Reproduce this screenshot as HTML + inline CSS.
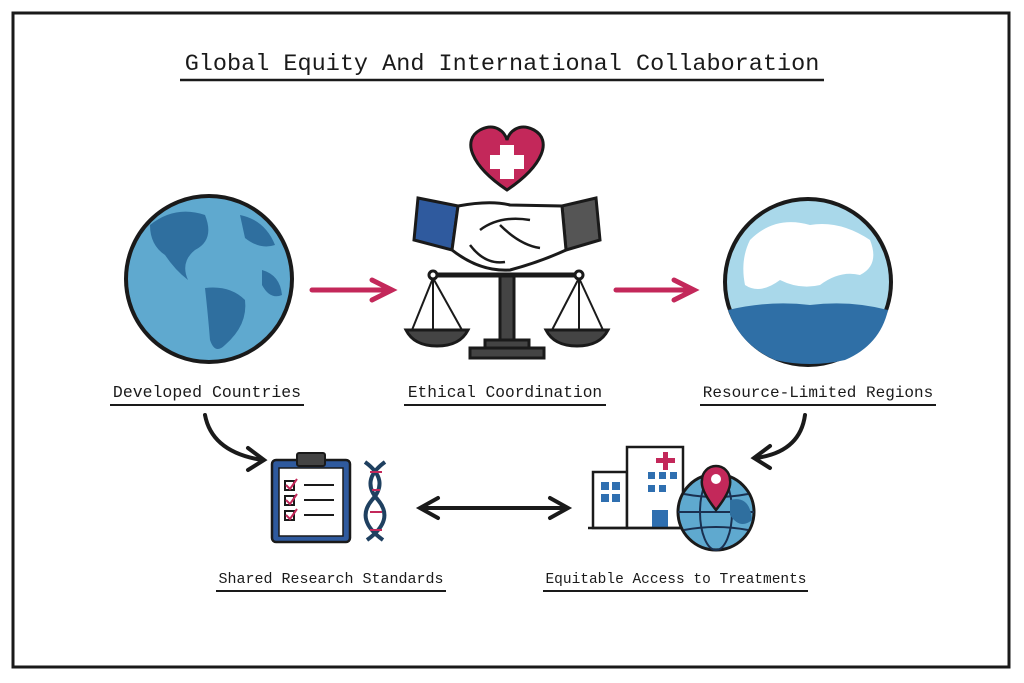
<!DOCTYPE html>
<html><head><meta charset="utf-8"><style>
html,body{margin:0;padding:0;background:#fff;}
svg{display:block;}
text{font-family:"Liberation Mono",monospace;fill:#1a1a1a;}
</style></head><body>
<svg width="1024" height="683" viewBox="0 0 1024 683" xmlns="http://www.w3.org/2000/svg">
<rect x="0" y="0" width="1024" height="683" fill="#fff"/>
<rect x="13" y="13" width="996" height="654" fill="none" stroke="#1a1a1a" stroke-width="3"/>
<text x="502" y="70" font-size="23.5" text-anchor="middle">Global Equity And International Collaboration</text>
<line x1="180" y1="80" x2="824" y2="80" stroke="#1a1a1a" stroke-width="2.5"/>

<circle cx="209" cy="279" r="83" fill="#5fa9cf" stroke="#1a1a1a" stroke-width="4"/>
<path d="M150 225 Q175 205 205 215 Q215 240 195 250 Q180 262 188 280 Q175 270 165 255 Q150 245 150 225Z" fill="#2f6f9f"/>
<path d="M205 288 Q230 285 245 300 Q248 325 225 345 Q215 355 210 340 Q208 315 205 288Z" fill="#2f6f9f"/>
<path d="M240 215 Q265 220 275 245 Q260 250 245 238Z" fill="#2f6f9f"/>
<path d="M262 270 Q280 275 282 295 Q270 300 262 285Z" fill="#2f6f9f"/>

<circle cx="808" cy="282" r="83" fill="#a9d8ea" stroke="#1a1a1a" stroke-width="4"/>
<path d="M750 240 Q775 215 810 225 Q840 220 870 240 Q880 265 860 275 Q840 270 820 285 Q800 290 780 280 Q760 295 745 285 Q740 260 750 240Z" fill="#fff"/>
<path d="M728 310 Q770 300 810 305 Q850 300 888 310 Q880 345 845 360 Q810 368 775 360 Q740 345 728 310Z" fill="#2f6fa6"/>

<g stroke="#c3285a" stroke-width="5" fill="none" stroke-linecap="round">
<line x1="312" y1="290" x2="388" y2="290"/><polyline points="372,280 392,290 372,300"/>
<line x1="616" y1="290" x2="690" y2="290"/><polyline points="674,280 694,290 674,300"/>
</g>

<path d="M507 190 C470 165 462 140 480 130 C495 122 505 132 507 140 C509 132 519 122 534 130 C552 140 544 165 507 190Z" fill="#c3285a" stroke="#1a1a1a" stroke-width="3"/>
<rect x="500" y="145" width="14" height="34" fill="#fff"/><rect x="490" y="155" width="34" height="14" fill="#fff"/>

<path d="M418 198 L458 206 L452 250 L414 240Z" fill="#2f5a9e" stroke="#1a1a1a" stroke-width="3"/>
<path d="M562 206 L596 198 L600 240 L566 250Z" fill="#555" stroke="#1a1a1a" stroke-width="3"/>
<path d="M458 206 Q490 200 510 205 L562 206 L566 250 Q540 262 510 270 Q480 272 452 250Z" fill="#fff" stroke="#1a1a1a" stroke-width="3"/>
<path d="M480 230 Q500 215 530 220 M470 245 Q485 265 505 262 M500 225 Q520 245 540 248" fill="none" stroke="#1a1a1a" stroke-width="2.5"/>

<g stroke="#1a1a1a" stroke-width="3">
<line x1="432" y1="275" x2="580" y2="275" stroke-width="5"/>
<circle cx="433" cy="275" r="4" fill="#fff"/><circle cx="579" cy="275" r="4" fill="#fff"/>
<rect x="500" y="276" width="14" height="66" fill="#444"/>
<rect x="485" y="340" width="44" height="8" fill="#444"/>
<rect x="470" y="348" width="74" height="10" fill="#444"/>
<line x1="433" y1="278" x2="412" y2="330" stroke-width="2"/><line x1="433" y1="278" x2="462" y2="330" stroke-width="2"/><line x1="433" y1="278" x2="433" y2="330" stroke-width="2"/>
<line x1="579" y1="278" x2="552" y2="330" stroke-width="2"/><line x1="579" y1="278" x2="603" y2="330" stroke-width="2"/><line x1="579" y1="278" x2="579" y2="330" stroke-width="2"/>
<path d="M406 330 L468 330 Q460 346 437 346 Q414 346 406 330Z" fill="#444"/>
<path d="M546 330 L608 330 Q600 346 577 346 Q554 346 546 330Z" fill="#444"/>
</g>

<text x="207" y="397" font-size="16.5" text-anchor="middle">Developed Countries</text>
<line x1="110" y1="405" x2="304" y2="405" stroke="#1a1a1a" stroke-width="2"/>
<text x="505" y="397" font-size="16.2" text-anchor="middle">Ethical Coordination</text>
<line x1="404" y1="405" x2="606" y2="405" stroke="#1a1a1a" stroke-width="2"/>
<text x="818" y="397" font-size="16" text-anchor="middle">Resource-Limited Regions</text>
<line x1="700" y1="405" x2="936" y2="405" stroke="#1a1a1a" stroke-width="2"/>
<text x="331" y="583" font-size="15" text-anchor="middle">Shared Research Standards</text>
<line x1="216" y1="591" x2="446" y2="591" stroke="#1a1a1a" stroke-width="2"/>
<text x="676" y="583" font-size="14.5" text-anchor="middle">Equitable Access to Treatments</text>
<line x1="543" y1="591" x2="808" y2="591" stroke="#1a1a1a" stroke-width="2"/>

<g stroke="#1a1a1a" stroke-width="4" fill="none" stroke-linecap="round">
<path d="M205 415 Q212 452 262 460"/><polyline points="248,448 264,460 248,470"/>
<path d="M805 415 Q800 452 756 458"/><polyline points="770,446 754,458 770,468"/>
<line x1="422" y1="508" x2="566" y2="508"/><polyline points="438,498 420,508 438,518"/><polyline points="550,498 568,508 550,518"/>
</g>

<rect x="272" y="460" width="78" height="82" rx="4" fill="#2f5a9e" stroke="#1a1a1a" stroke-width="2.5"/>
<rect x="279" y="468" width="64" height="68" fill="#fff" stroke="#1a1a1a" stroke-width="1.5"/>
<rect x="297" y="453" width="28" height="13" rx="2" fill="#444" stroke="#1a1a1a" stroke-width="2"/>
<g stroke="#1a1a1a" stroke-width="2"><rect x="285" y="481" width="9" height="9" fill="#fff"/><rect x="285" y="496" width="9" height="9" fill="#fff"/><rect x="285" y="511" width="9" height="9" fill="#fff"/>
<line x1="304" y1="485" x2="334" y2="485"/><line x1="304" y1="500" x2="334" y2="500"/><line x1="304" y1="515" x2="334" y2="515"/></g>
<g stroke="#c3285a" stroke-width="2" fill="none"><polyline points="286,485 290,489 297,479"/><polyline points="286,500 290,504 297,494"/><polyline points="286,515 290,519 297,509"/></g>
<g fill="none" stroke-width="4"><path d="M365 462 Q390 480 372 500 Q355 520 383 540" stroke="#1f4060"/><path d="M385 462 Q360 480 378 500 Q395 520 367 540" stroke="#1f4060"/></g>
<g stroke="#c3285a" stroke-width="2"><line x1="370" y1="472" x2="382" y2="472"/><line x1="372" y1="490" x2="380" y2="490"/><line x1="370" y1="512" x2="382" y2="512"/><line x1="370" y1="530" x2="382" y2="530"/></g>

<rect x="593" y="472" width="34" height="56" fill="#fff" stroke="#1a1a1a" stroke-width="2.5"/>
<rect x="627" y="447" width="56" height="81" fill="#fff" stroke="#1a1a1a" stroke-width="2.5"/>
<g fill="#2f6fb0"><rect x="601" y="482" width="8" height="8"/><rect x="612" y="482" width="8" height="8"/><rect x="601" y="494" width="8" height="8"/><rect x="612" y="494" width="8" height="8"/>
<rect x="648" y="472" width="7" height="7"/><rect x="659" y="472" width="7" height="7"/><rect x="670" y="472" width="7" height="7"/><rect x="648" y="485" width="7" height="7"/><rect x="659" y="485" width="7" height="7"/>
<rect x="652" y="510" width="16" height="18"/></g>
<rect x="663" y="452" width="5" height="18" fill="#c3285a"/><rect x="656" y="458" width="19" height="5" fill="#c3285a"/>
<line x1="588" y1="528" x2="690" y2="528" stroke="#1a1a1a" stroke-width="2.5"/>
<circle cx="716" cy="512" r="38" fill="#5fa9cf" stroke="#1a1a1a" stroke-width="3"/>
<g stroke="#1a3050" stroke-width="2" fill="none"><ellipse cx="716" cy="512" rx="16" ry="38"/><line x1="678" y1="512" x2="754" y2="512"/><path d="M684 494 Q716 500 748 494 M684 530 Q716 524 748 530"/></g>
<path d="M730 500 Q750 495 752 520 Q740 530 730 515Z" fill="#2f6f9f"/>
<path d="M716 510 Q700 490 702 480 A14 14 0 1 1 730 480 Q732 490 716 510Z" fill="#c3285a" stroke="#1a1a1a" stroke-width="2.5"/>
<circle cx="716" cy="479" r="5" fill="#fff"/>
</svg>
</body></html>
